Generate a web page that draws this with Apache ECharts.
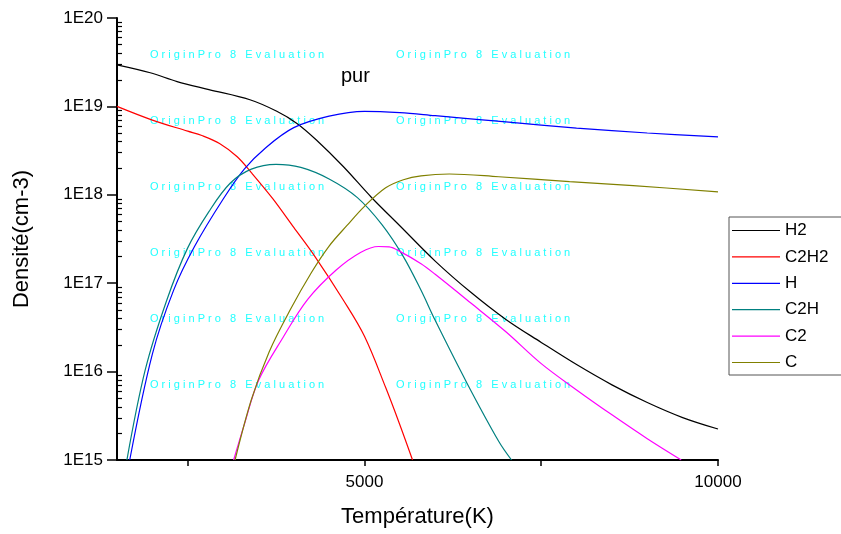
<!DOCTYPE html>
<html lang="fr">
<head>
  <meta charset="UTF-8">
  <title>pur</title>
  <style type="text/css">
    html, body { margin: 0; padding: 0; background: #fff; }
    #main { width: 841px; height: 534px; }
  </style>
</head>
<body>
  <div id="main"></div>
</body>
<script type="text/javascript" src="https://cdn.jsdelivr.net/npm/echarts@6/dist/echarts.min.js"></script>
<script type="text/javascript">
  // températures (K) et densités (cm-3)
  var h2T = [1500, 1970, 2350, 2800, 3380, 3760, 4040, 4320, 4700, 5100, 5500, 6000, 6500, 7000, 7500, 8000, 8500, 9000, 9500, 10000]
  var h2V = [2.95e19, 2.4e19, 1.91e19, 1.55e19, 1.19e19, 8.81e18, 6.46e18, 4.17e18, 2.09e18, 9.33e17, 4.47e17, 1.78e17, 7.94e16, 3.89e16, 2.14e16, 1.2e16, 7.08e15, 4.47e15, 3.02e15, 2.24e15]

  var c2h2T = [1500, 2000, 2500, 2700, 2950, 3200, 3400, 3700, 4000, 4300, 4700, 5000, 5300, 5500, 5680]
  var c2h2V = [1.0e19, 7.0e18, 5.25e18, 4.68e18, 3.8e18, 2.69e18, 1.78e18, 9.1e17, 4.27e17, 2.0e17, 6.46e16, 2.51e16, 6.6e15, 2.51e15, 1.0e15]

  var hT = [1680, 2000, 2300, 2600, 3000, 3300, 3600, 4000, 4500, 5000, 5500, 6000, 7000, 8000, 9000, 10000]
  var hV = [1.0e15, 1.58e16, 8.3e16, 2.63e17, 8.9e17, 1.95e18, 3.39e18, 5.75e18, 7.76e18, 8.8e18, 8.5e18, 7.85e18, 6.68e18, 5.69e18, 5.0e18, 4.52e18]

  var c2hT = [1640, 1900, 2200, 2500, 2800, 3100, 3400, 3750, 4100, 4500, 4900, 5250, 5550, 5800, 6000, 6450, 6900, 7080]
  var c2hV = [1.0e15, 1.05e16, 6.3e16, 2.51e17, 6.46e17, 1.35e18, 1.95e18, 2.21e18, 2.04e18, 1.51e18, 9.3e17, 4.57e17, 2.0e17, 8.3e16, 3.8e16, 7.4e15, 1.62e15, 1.0e15]

  var c2T = [3150, 3300, 3500, 3850, 4200, 4600, 4950, 5200, 5350, 5500, 5800, 6000, 6500, 7000, 7500, 8000, 8500, 9000, 9480]
  var c2V = [1.0e15, 2.51e15, 7.9e15, 2.45e16, 6.6e16, 1.41e17, 2.24e17, 2.6e17, 2.57e17, 2.29e17, 1.66e17, 1.26e17, 6.0e16, 2.82e16, 1.23e16, 6.2e15, 3.24e15, 1.74e15, 1.0e15]

  var cT = [3170, 3400, 3650, 3950, 4250, 4500, 4750, 5000, 5300, 5550, 5800, 6200, 6900, 7900, 8800, 10000]
  var cV = [1.0e15, 4.8e15, 1.66e16, 5.0e16, 1.32e17, 2.63e17, 4.47e17, 7.41e17, 1.2e18, 1.48e18, 1.64e18, 1.72e18, 1.6e18, 1.41e18, 1.27e18, 1.08e18]

  var xTicks = [2500, 5000, 7500, 10000]
  var xLabels = [5000, 10000]

  var police = 'Liberation Sans, Arial, sans-serif'

  function paires(t, v) {
    return t.map(function (x, i) { return [x, v[i]] })
  }

  // petites graduations log (2..9 par décade)
  var mineures = []
  for (var d = 15; d < 20; d++) {
    for (var k = 2; k <= 9; k++) mineures.push(k * Math.pow(10, d))
  }

  // filigrane Origin
  var filigrane = []
  var lignesY = [55, 121, 187, 253, 319, 385]
  var colonnesX = [150, 396]
  lignesY.forEach(function (y) {
    colonnesX.forEach(function (x) {
      filigrane.push({
        type: 'text', left: x, top: y - 6, z: -10, silent: true,
        style: {
          text: 'O r i g i n P r o   8   E v a l u a t i o n',
          fill: '#22ffff', font: '11px ' + police
        }
      })
    })
  })
  filigrane.push({
    type: 'text', left: 341, top: 66,
    style: { text: 'pur', fill: '#000', font: '20px ' + police }
  })

  function serie(nom, couleur, t, v) {
    return {
      name: nom, type: 'line', data: paires(t, v),
      symbol: 'none', smooth: 0.35, z: 3,
      lineStyle: { color: couleur, width: 1.2 },
      itemStyle: { color: couleur }
    }
  }

  var myChart = echarts.init(document.getElementById('main'))
  var option = {
    animation: false,
    textStyle: { fontFamily: police },
    graphic: filigrane,
    grid: { left: 117, right: 123, top: 18, bottom: 74 },
    legend: {
      orient: 'vertical', left: 729, top: 217,
      icon: 'rect', itemWidth: 48, itemHeight: 1.2, itemGap: 9.4,
      padding: [5, 60, 4, 3],
      borderColor: '#555', borderWidth: 1,
      textStyle: { fontSize: 17, color: '#000', lineHeight: 17, fontFamily: police },
      data: ['H2', 'C2H2', 'H', 'C2H', 'C2', 'C']
    },
    xAxis: {
      type: 'value', min: 1500, max: 10000,
      name: 'Température(K)', nameLocation: 'middle', nameGap: 46,
      nameTextStyle: { fontSize: 22, color: '#000', fontFamily: police },
      axisLine: { lineStyle: { color: '#000', width: 2 } },
      axisTick: { customValues: xTicks, length: 6, lineStyle: { color: '#000', width: 1.5 } },
      axisLabel: {
        customValues: xLabels, fontSize: 17, color: '#000', margin: 14, fontFamily: police,
        formatter: function (v) { return String(v) }
      },
      splitLine: { show: false }
    },
    yAxis: [{
      type: 'log', logBase: 10, min: 1e15, max: 1e20,
      name: 'Densité(cm-3)', nameLocation: 'middle', nameGap: 84,
      nameTextStyle: { fontSize: 22, color: '#000', fontFamily: police },
      axisLine: { lineStyle: { color: '#000', width: 2 } },
      axisTick: { length: 10, lineStyle: { color: '#000', width: 1.5 } },
      axisLabel: {
        fontSize: 17, color: '#000', margin: 14, fontFamily: police,
        formatter: function (v) { return '1E' + Math.round(Math.log10(v)) }
      },
      splitLine: { show: false }
    }, {
      type: 'log', logBase: 10, min: 1e15, max: 1e20, position: 'left', offset: 0,
      axisLine: { show: false },
      axisTick: { inside: true, customValues: mineures, length: 5, lineStyle: { color: '#000', width: 1.2 } },
      axisLabel: { show: false },
      splitLine: { show: false }
    }],
    series: [
      serie('H2', '#000000', h2T, h2V),
      serie('C2H2', '#ff0000', c2h2T, c2h2V),
      serie('H', '#0000ff', hT, hV),
      serie('C2H', '#008080', c2hT, c2hV),
      serie('C2', '#ff00ff', c2T, c2V),
      serie('C', '#808000', cT, cV)
    ]
  }
  myChart.setOption(option)
</script>
</html>
